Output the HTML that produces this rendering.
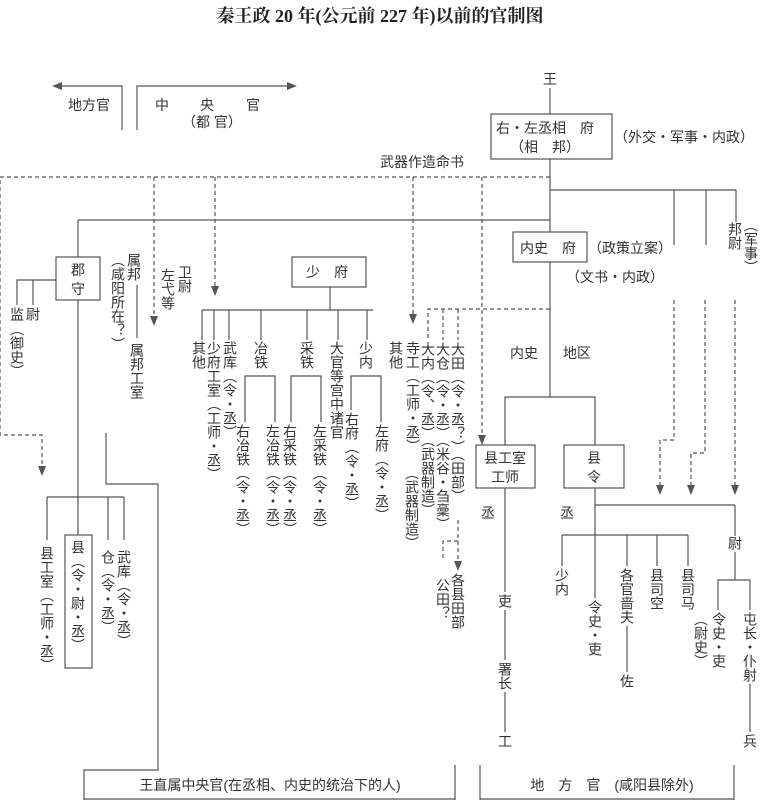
<!DOCTYPE html>
<html><head><meta charset="utf-8"><style>
html,body{margin:0;padding:0;background:#fff;}
svg{display:block;}
text{font-family:"Liberation Sans","Noto Sans CJK SC",sans-serif;fill:#333;font-size:14px;}
.v{writing-mode:vertical-rl;}
.t{font-family:"Liberation Serif","Noto Serif CJK SC",serif;font-weight:bold;font-size:18px;fill:#222;}
line,polyline,rect{stroke:#555;stroke-width:1.2;fill:none;}
.d{stroke-dasharray:4,3;}
.a{fill:#555;stroke:none;}
</style></head><body>
<svg width="760" height="801" viewBox="0 0 760 801">
<text class="t" x="380" y="22" text-anchor="middle">秦王政 20 年(公元前 227 年)以前的官制图</text>

<polyline points="122,130 122,86 58,86"/><polygon class="a" points="52,86 62,82 62,90"/>
<polyline points="137,130 137,86 290,86"/><polygon class="a" points="297,86 287,82 287,90"/>
<text x="68" y="110">地方官</text>
<text x="155" y="110">中</text><text x="200" y="110">央</text><text x="246" y="110">官</text>
<text x="182" y="127">（都 官）</text>

<text x="543" y="84">王</text>
<line x1="550" y1="88" x2="550" y2="114"/>
<rect x="491" y="114" width="121" height="45"/>
<text x="496" y="133">右・左丞相　府</text>
<text x="510" y="152">（相　邦）</text>
<text x="614" y="142">（外交・军事・内政）</text>
<text x="380" y="167">武器作造命书</text>

<line x1="550" y1="159" x2="550" y2="232"/>
<line x1="550" y1="262" x2="550" y2="397"/>
<polyline class="d" points="550,177 0,177 0,435 42,435 42,468"/>
<polygon class="a" points="42,476 38,466 46,466"/>
<line class="d" x1="154" y1="177" x2="154" y2="318"/><polygon class="a" points="154,326 150,316 158,316"/>
<line class="d" x1="215" y1="177" x2="215" y2="288"/><polygon class="a" points="215,296 211,286 219,286"/>
<line class="d" x1="413" y1="177" x2="413" y2="316"/><polygon class="a" points="413,324 409,314 417,314"/>
<line class="d" x1="482" y1="177" x2="482" y2="437"/><polygon class="a" points="482,445 478,435 486,435"/>

<line x1="78" y1="220" x2="550" y2="220"/>
<line x1="78" y1="220" x2="78" y2="257"/>
<line x1="550" y1="190" x2="736" y2="190"/>
<line x1="674" y1="190" x2="674" y2="245"/>
<line x1="706" y1="190" x2="706" y2="245"/>
<line x1="736" y1="190" x2="736" y2="222"/>
<text class="v" x="735" y="222">邦尉</text>
<text class="v" x="751" y="218">（军事）</text>

<rect x="513" y="232" width="74" height="30"/>
<text x="520" y="253">内史　府</text>
<text x="588" y="253">（政策立案）</text>
<text x="566" y="282">（文书・内政）</text>

<polyline class="d" points="674,300 674,440 660,440 660,487"/><polygon class="a" points="660,495 656,485 664,485"/>
<polyline class="d" points="705,300 705,453 691,453 691,487"/><polygon class="a" points="691,495 687,485 695,485"/>
<line class="d" x1="735" y1="300" x2="735" y2="487"/><polygon class="a" points="735,495 731,485 739,485"/>

<text x="510" y="358">内史</text><text x="563" y="358">地区</text>
<polyline points="505,445 505,397 595,397 595,445"/>
<rect x="476" y="445" width="59" height="43"/>
<text x="484" y="463">县工室</text><text x="491" y="482">工师</text>
<rect x="564" y="445" width="60" height="43"/>
<text x="587" y="463">县</text><text x="587" y="482">令</text>
<text x="481" y="518">丞</text><text x="560" y="518">丞</text>

<line x1="505" y1="488" x2="505" y2="592"/>
<text class="v" x="505" y="594">吏</text>
<line x1="505" y1="610" x2="505" y2="660"/>
<text class="v" x="505" y="662">署长</text>
<line x1="505" y1="692" x2="505" y2="732"/>
<text class="v" x="505" y="734">工</text>

<line x1="595" y1="488" x2="595" y2="598"/>
<line x1="595" y1="505" x2="735" y2="505"/>
<line x1="735" y1="505" x2="735" y2="536"/>
<text class="v" x="735" y="536">尉</text>
<line x1="735" y1="552" x2="735" y2="580"/>
<polyline points="718,610 718,580 750,580 750,610"/>
<text class="v" x="719" y="612">令史・吏</text>
<text class="v" x="750" y="612">屯长・仆射</text>
<line x1="750" y1="684" x2="750" y2="732"/>
<text class="v" x="750" y="734">兵</text>

<line x1="562" y1="535" x2="688" y2="535"/>
<line x1="562" y1="535" x2="562" y2="566"/>
<line x1="627" y1="535" x2="627" y2="566"/>
<line x1="657" y1="535" x2="657" y2="566"/>
<line x1="688" y1="535" x2="688" y2="566"/>
<text class="v" x="562" y="568">少内</text>
<text class="v" x="595" y="600">令史・吏</text>
<text class="v" x="627" y="568">各官啬夫</text>
<line x1="627" y1="626" x2="627" y2="672"/>
<text class="v" x="627" y="674">佐</text>
<text class="v" x="657" y="568">县司空</text>
<text class="v" x="688" y="568">县司马</text>
<text class="v" x="701" y="612">（尉史）</text>

<rect x="292" y="257" width="74" height="30"/>
<text x="306" y="277">少　府</text>
<line x1="330" y1="287" x2="330" y2="310"/>
<line x1="202" y1="310" x2="373" y2="310"/>
<line x1="202" y1="310" x2="202" y2="340"/>
<line x1="214" y1="310" x2="214" y2="340"/>
<line x1="229" y1="310" x2="229" y2="340"/>
<line x1="261" y1="310" x2="261" y2="340"/>
<line x1="307" y1="310" x2="307" y2="340"/>
<line x1="338" y1="310" x2="338" y2="340"/>
<line x1="367" y1="310" x2="367" y2="340"/>
<text class="v" x="199" y="341">其他</text>
<text class="v" x="214" y="341">少府工室（工师・丞）</text>
<text class="v" x="230" y="341">武库（令・丞）</text>
<text class="v" x="261" y="341">冶铁</text>
<text class="v" x="307" y="341">采铁</text>
<text class="v" x="337" y="341">大官等宫中诸官</text>
<text class="v" x="366" y="341">少内</text>
<polyline points="245,422 245,376 275,376 275,422"/>
<polyline points="291,422 291,376 321,376 321,422"/>
<polyline points="351,410 351,376 381,376 381,422"/>
<text class="v" x="243" y="424">右冶铁（令・丞）</text>
<text class="v" x="273" y="424">左冶铁（令・丞）</text>
<text class="v" x="290" y="424">右采铁（令・丞）</text>
<text class="v" x="320" y="424">左采铁（令・丞）</text>
<text class="v" x="352" y="412">右府（令・丞）</text>
<text class="v" x="382" y="424">左府（令・丞）</text>

<text class="v" x="396" y="341">其他</text>
<text class="v" x="413" y="341">寺工（工师・丞）</text>
<text class="v" x="412" y="466">（武器制造）</text>
<polyline class="d" points="550,309 428,309 428,340"/>
<line class="d" x1="443" y1="309" x2="443" y2="340"/>
<line class="d" x1="458" y1="309" x2="458" y2="340"/>
<text class="v" x="428" y="342">大内（令、丞）（武器制造）</text>
<text class="v" x="443" y="342">大仓（令・丞）（米谷・刍稾）</text>
<text class="v" x="458" y="342">大田（令・丞？）（田部）</text>
<line class="d" x1="458" y1="520" x2="458" y2="563"/>
<polygon class="a" points="458,571 454,561 462,561"/>
<polyline class="d" points="458,541 443,541 443,560"/>
<text class="v" x="443" y="578">公田？</text>
<text class="v" x="458" y="573">各县田部</text>

<rect x="56" y="257" width="44" height="43"/>
<text x="71" y="275">郡</text><text x="71" y="294">守</text>
<polyline points="17,305 17,280 56,280"/>
<line x1="33" y1="280" x2="33" y2="305"/>
<text class="v" x="17" y="307">监</text><text class="v" x="33" y="307">尉</text>
<text class="v" x="17" y="322">（御史）</text>
<line x1="78" y1="300" x2="78" y2="535"/>
<line x1="47" y1="497" x2="124" y2="497"/>
<line x1="47" y1="497" x2="47" y2="540"/>
<line x1="108" y1="497" x2="108" y2="540"/>
<line x1="124" y1="497" x2="124" y2="540"/>
<rect x="65" y="535" width="27" height="133"/>
<text class="v" x="47" y="546">县工室（工师・丞）</text>
<text class="v" x="78" y="540">县（令・尉・丞）</text>
<text class="v" x="108" y="550">仓（令・丞）</text>
<text class="v" x="124" y="550">武库（令・丞）</text>

<text class="v" x="134" y="253">属邦</text>
<text class="v" x="118" y="253">（咸阳所在？）</text>
<line x1="137" y1="285" x2="137" y2="338"/>
<text class="v" x="137" y="343">属邦工室</text>
<text class="v" x="185" y="265">卫尉</text>
<text class="v" x="168" y="268">左弋等</text>

<polyline points="106,433 106,484 158,484 158,770 84,770 84,800"/>
<line x1="455" y1="765" x2="455" y2="800"/>
<text x="270" y="790" text-anchor="middle">王直属中央官(在丞相、内史的统治下的人)</text>
<line x1="480" y1="765" x2="480" y2="800"/>
<line x1="734" y1="765" x2="734" y2="800"/>
<line x1="480" y1="799" x2="734" y2="799"/>
<line x1="84" y1="799" x2="455" y2="799"/>
<text x="612" y="790" text-anchor="middle">地　方　官　(咸阳县除外)</text>
</svg>
</body></html>
